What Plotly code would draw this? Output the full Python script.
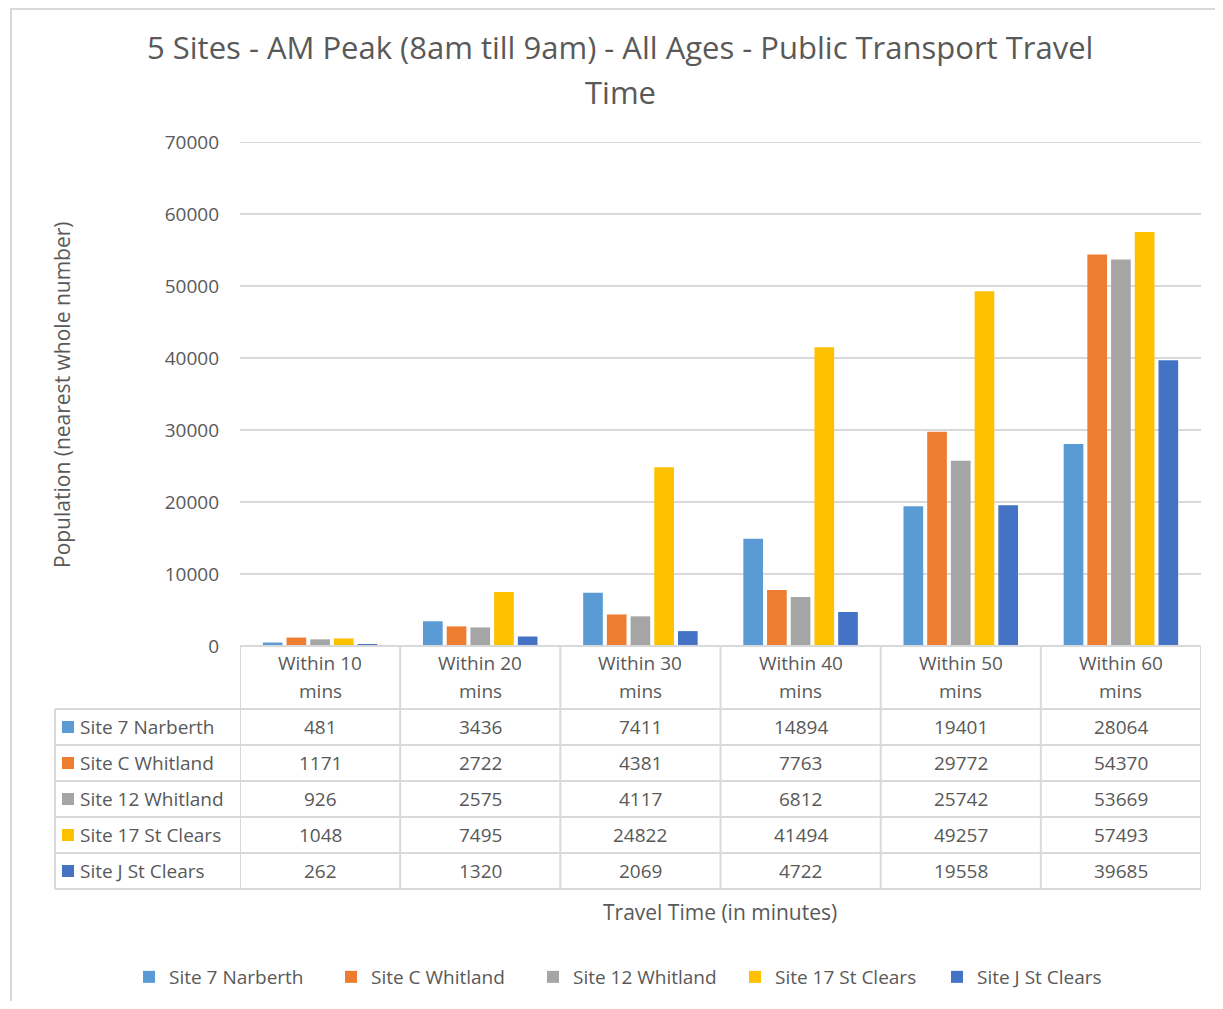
import plotly.graph_objects as go

# page body has an 8px margin, so the figure is a little smaller than the window
PAD = 8
W, H = 1223 - 2 * PAD, 1009 - 2 * PAD

categories = ["Within 10 mins", "Within 20 mins", "Within 30 mins",
              "Within 40 mins", "Within 50 mins", "Within 60 mins"]
series_names = ["Site 7 Narberth", "Site C Whitland", "Site 12 Whitland",
                "Site 17 St Clears", "Site J St Clears"]
site7_narberth = [481, 3436, 7411, 14894, 19401, 28064]
siteC_whitland = [1171, 2722, 4381, 7763, 29772, 54370]
site12_whitland = [926, 2575, 4117, 6812, 25742, 53669]
site17_stclears = [1048, 7495, 24822, 41494, 49257, 57493]
siteJ_stclears = [262, 1320, 2069, 4722, 19558, 39685]
y_ticks = [0, 10000, 20000, 30000, 40000, 50000, 60000, 70000]

colors = ["#5B9BD5", "#ED7D31", "#A5A5A5", "#FFC000", "#4472C4"]
all_series = [site7_narberth, siteC_whitland, site12_whitland,
              site17_stclears, siteJ_stclears]

FONT = "Open Sans, sans-serif"
TXT = "#595959"
GRID = "#d9d9d9"


def px(x):
    return (x - PAD) / W


def py(y):
    return 1 - (y - PAD) / H


def label(x, y, text, size=19, xref="paper", xanchor="center", **kw):
    return dict(x=x, y=y, xref=xref, yref="paper", text=text, showarrow=False,
                xanchor=xanchor, yanchor="middle",
                font=dict(size=size, color=TXT, family=FONT), **kw)


fig = go.Figure()
for name, vals, col in zip(series_names, all_series, colors):
    fig.add_trace(go.Bar(
        x=list(range(len(categories))), y=vals, name=name,
        marker=dict(color=col, line=dict(width=0)),
    ))

shapes = []
annotations = []

# chart border (top edge sits at the top of the svg)
shapes.append(dict(type="rect", xref="paper", yref="paper",
                   x0=px(11), x1=px(1240), y0=py(1030), y1=py(9),
                   line=dict(color=GRID, width=2)))

# top gridline (plotly skips the one on the range edge)
shapes.append(dict(type="line", xref="x", yref="y", x0=-0.5, x1=len(categories) - 0.5,
                   y0=y_ticks[-1], y1=y_ticks[-1], line=dict(color=GRID, width=2)))

# data table grid
top, head_bot = 646, 709
row_h = 36
rows_y = [head_bot + i * row_h for i in range(len(series_names) + 1)]
bottom = rows_y[-1]
shapes.append(dict(type="line", xref="x", yref="paper", x0=-0.5, x1=len(categories) - 0.5,
                   y0=py(top), y1=py(top), line=dict(color=GRID, width=2)))
for yy in rows_y:
    shapes.append(dict(type="line", xref="paper", yref="paper", x0=px(55), x1=px(1201),
                       y0=py(yy), y1=py(yy), line=dict(color=GRID, width=2)))
for i in range(len(categories) + 1):
    shapes.append(dict(type="line", xref="x", yref="paper", x0=i - 0.5, x1=i - 0.5,
                       y0=py(top), y1=py(bottom), line=dict(color=GRID, width=2)))
shapes.append(dict(type="line", xref="paper", yref="paper", x0=px(55), x1=px(55),
                   y0=py(head_bot), y1=py(bottom), line=dict(color=GRID, width=2)))

# header text
for i, cat in enumerate(categories):
    a, b = cat.rsplit(" ", 1)
    annotations.append(label(i, py(663), a, xref="x"))
    annotations.append(label(i, py(691), b, xref="x"))

# rows
for r, (name, vals, col) in enumerate(zip(series_names, all_series, colors)):
    yc = (rows_y[r] + rows_y[r + 1]) / 2
    shapes.append(dict(type="rect", xref="paper", yref="paper",
                       x0=px(62), x1=px(74), y0=py(yc + 6), y1=py(yc - 6),
                       fillcolor=col, line=dict(width=0)))
    annotations.append(label(px(78), py(yc), name, xanchor="left"))
    for i, v in enumerate(vals):
        annotations.append(label(i, py(yc), str(v), xref="x"))

# axis titles
annotations.append(label(px(720), py(912), "Travel Time (in minutes)", size=21))
annotations.append(label(px(62), py(395), "Population (nearest whole number)",
                         size=21, textangle=-90))
# title
annotations.append(label(px(620), py(47),
                         "5 Sites - AM Peak (8am till 9am) - All Ages - Public Transport Travel",
                         size=31))
annotations.append(label(px(620), py(92), "Time", size=31))

fig.update_layout(
    width=W, height=H, autosize=False,
    margin=dict(l=0, r=0, t=0, b=0),
    paper_bgcolor="white", plot_bgcolor="white",
    barmode="group", bargap=0.26, bargroupgap=0.17,
    xaxis=dict(domain=[px(240), px(1201)], range=[-0.5, len(categories) - 0.5],
               showticklabels=False, showgrid=False, zeroline=False, showline=False,
               automargin=False),
    yaxis=dict(domain=[py(646), py(142)], range=[0, 70000], tickvals=y_ticks,
               tickformat="d", showgrid=True, gridcolor=GRID, gridwidth=2,
               zeroline=False, showline=False, ticks="", ticklabelstandoff=20,
               automargin=False,
               tickfont=dict(size=19, color=TXT, family=FONT)),
    legend=dict(orientation="h", x=px(634), xanchor="center", y=py(977), yanchor="middle",
                font=dict(size=19, color=TXT, family=FONT), entrywidth=157,
                itemclick=False),
    shapes=shapes, annotations=annotations,
    showlegend=True,
)

fig.write_html("out.html")
